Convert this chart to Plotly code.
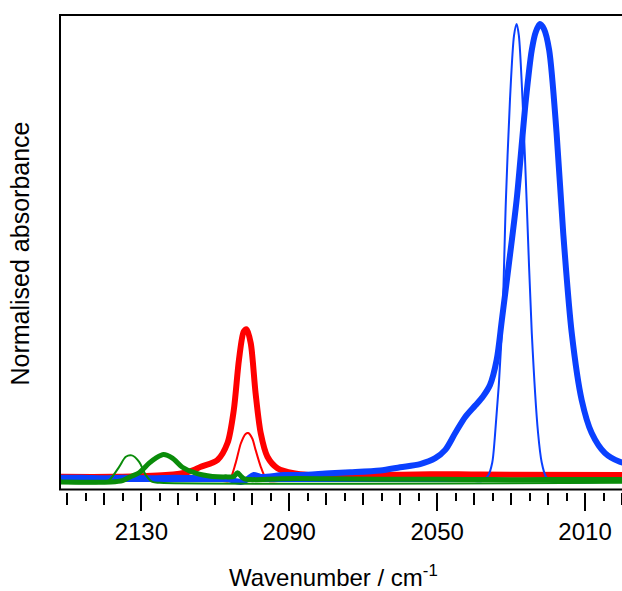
import plotly.graph_objects as go

# ---- data (wavenumber / cm-1, normalised absorbance) ----
blue_thick_wn = [2152, 2146, 2140, 2135, 2127, 2121, 2114, 2107, 2103.1, 2101.3, 2099.6, 2097.7,
                 2091.5, 2087, 2079, 2073.5, 2065.4, 2060, 2054.6, 2050.5, 2047.8, 2045.1, 2042.4,
                 2039.7, 2037.6, 2035.7, 2033.9, 2032.5, 2030.7, 2028.5, 2026.0, 2024.4, 2023.3,
                 2022.2, 2021.1, 2019.7, 2017.7, 2015.9, 2013.6, 2010.9, 2008.2, 2004.6, 2000.6, 1999.5]
blue_thick_v = [0.007, 0.007, 0.006, 0.007, 0.006, 0.007, 0.006, 0.005, -0.002, 0.004, 0.013, 0.009,
                0.013, 0.013, 0.017, 0.019, 0.023, 0.030, 0.037, 0.050, 0.068, 0.105, 0.140,
                0.165, 0.185, 0.210, 0.265, 0.352, 0.468, 0.615, 0.834, 0.943, 0.983,
                1.0, 0.989, 0.943, 0.762, 0.543, 0.324, 0.177, 0.105, 0.061, 0.042, 0.040]

blue_thin_wn = [2152, 2040, 2037.9, 2036.2, 2035.1, 2034.4, 2032.5, 2031.4, 2030.3, 2029.2, 2028.5,
                2027.9, 2026.9, 2025.8, 2024.4, 2022.7, 2021.7, 2020.6, 2019.5, 1999.5]
blue_thin_v = [0, 0, 0, 0.012, 0.04, 0.095, 0.324, 0.615, 0.834, 0.975, 1.0,
               0.975, 0.834, 0.615, 0.324, 0.105, 0.04, 0.01, 0, 0]

red_thick_wn = [2152, 2137.7, 2123.4, 2117.2, 2113.9, 2109.4, 2106.7, 2105.0, 2103.6, 2102.3, 2101.5,
                2100.4, 2099.1, 2097.7, 2095.9, 2093.2, 2088.8, 2078.9, 2065.4, 2051.9, 2038.4, 1999.5]
red_thick_v = [0.009, 0.009, 0.013, 0.020, 0.031, 0.046, 0.083, 0.155, 0.265, 0.327, 0.332,
               0.301, 0.192, 0.104, 0.053, 0.028, 0.017, 0.011, 0.013, 0.015, 0.014, 0.013]

red_thin_wn = [2152, 2108, 2106.3, 2104.5, 2103.1, 2101.8, 2101.1, 2100.0, 2099.1, 2097.7, 2096.4,
               2095.5, 2093, 1999.5]
red_thin_v = [0.0, 0.0, 0.0, 0.039, 0.082, 0.103, 0.105, 0.093, 0.068, 0.031, 0.006,
              0.0, 0.0, 0.0]

green_thick_wn = [2152, 2138.2, 2135.1, 2132.8, 2130.6, 2127.9, 2126.1, 2124.0, 2121.6, 2118.9, 2115.3,
                  2110.8, 2107.2, 2105.0, 2104.0, 2103.0, 2102.2, 2100.4, 2092.3, 2080, 2065, 2050,
                  2035, 2020, 1999.5]
green_thick_v = [-0.002, -0.002, 0.001, 0.010, 0.018, 0.039, 0.050, 0.058, 0.050, 0.030, 0.017,
                 0.010, 0.009, 0.010, 0.018, 0.010, 0.005, 0.003, 0.005, 0.005, 0.004, 0.004,
                 0.003, 0.003, 0.003]

green_thin_wn = [2152, 2141, 2138.7, 2136.0, 2134.2, 2132.6, 2130.6, 2128.8, 2127.0, 2125, 1999.5]
green_thin_v = [-0.004, -0.004, 0.002, 0.031, 0.053, 0.056, 0.042, 0.013, -0.002, -0.004, -0.004]

x_major_ticks = [2130, 2090, 2050, 2010]
x_range = [2152, 2000]
y_range = [-0.0241, 1.0197]

BLUE = "#0a40ff"
RED = "#ff0000"
GREEN = "#0a8c0a"
FONT = "Liberation Sans, Arial, sans-serif"

fig = go.Figure()
def add(x, y, color, width, xaxis="x"):
    fig.add_trace(go.Scatter(x=x, y=y, mode="lines", xaxis=xaxis,
                             line=dict(color=color, width=width, shape="spline", smoothing=0.8),
                             showlegend=False, hoverinfo="skip"))

add(red_thick_wn, red_thick_v, RED, 6)
add(red_thin_wn, red_thin_v, RED, 2)
add(blue_thick_wn, blue_thick_v, BLUE, 6)
add(blue_thin_wn, blue_thin_v, BLUE, 2)
add(green_thick_wn, green_thick_v, GREEN, 5)
add(green_thin_wn, green_thin_v, GREEN, 2, xaxis="x2")

fig.update_layout(
    width=622, height=591,
    margin=dict(l=60, r=0, t=15, b=99),
    paper_bgcolor="white", plot_bgcolor="white",
    font=dict(family=FONT, color="black", size=24),
    xaxis=dict(range=x_range, showline=False, showgrid=False, zeroline=False,
               tickmode="array", tickvals=x_major_ticks,
               ticks="outside", ticklen=18, tickwidth=2, tickcolor="black",
               tickfont=dict(size=24, family=FONT),
               minor=dict(dtick=10, tick0=2010, ticks="outside", ticklen=12, tickwidth=2,
                          tickcolor="black", showgrid=False)),
    xaxis2=dict(range=x_range, overlaying="x", anchor="y", side="bottom",
                showline=False, showgrid=False, zeroline=False, showticklabels=False,
                tick0=2000, dtick=5, ticks="outside", ticklen=8, tickwidth=2, tickcolor="black"),
    yaxis=dict(range=y_range, showline=False, showgrid=False, zeroline=False,
               showticklabels=False, ticks="",
               title=dict(text="Normalised absorbance", font=dict(size=25, family=FONT), standoff=22)),
    shapes=[dict(type="rect", xref="paper", yref="paper", x0=0, x1=1.02, y0=0.0052, y1=1,
                 line=dict(color="black", width=2), layer="above")],
    annotations=[dict(text="Wavenumber / cm<sup>-1</sup>", xref="paper", yref="paper",
                      x=0.4867, y=-0.177, xanchor="center", yanchor="middle", showarrow=False,
                      font=dict(size=24, family=FONT))],
)

fig.write_html("out.html", config={"displayModeBar": False},
               post_script="document.body.style.margin='0';document.body.style.overflow='hidden';")
